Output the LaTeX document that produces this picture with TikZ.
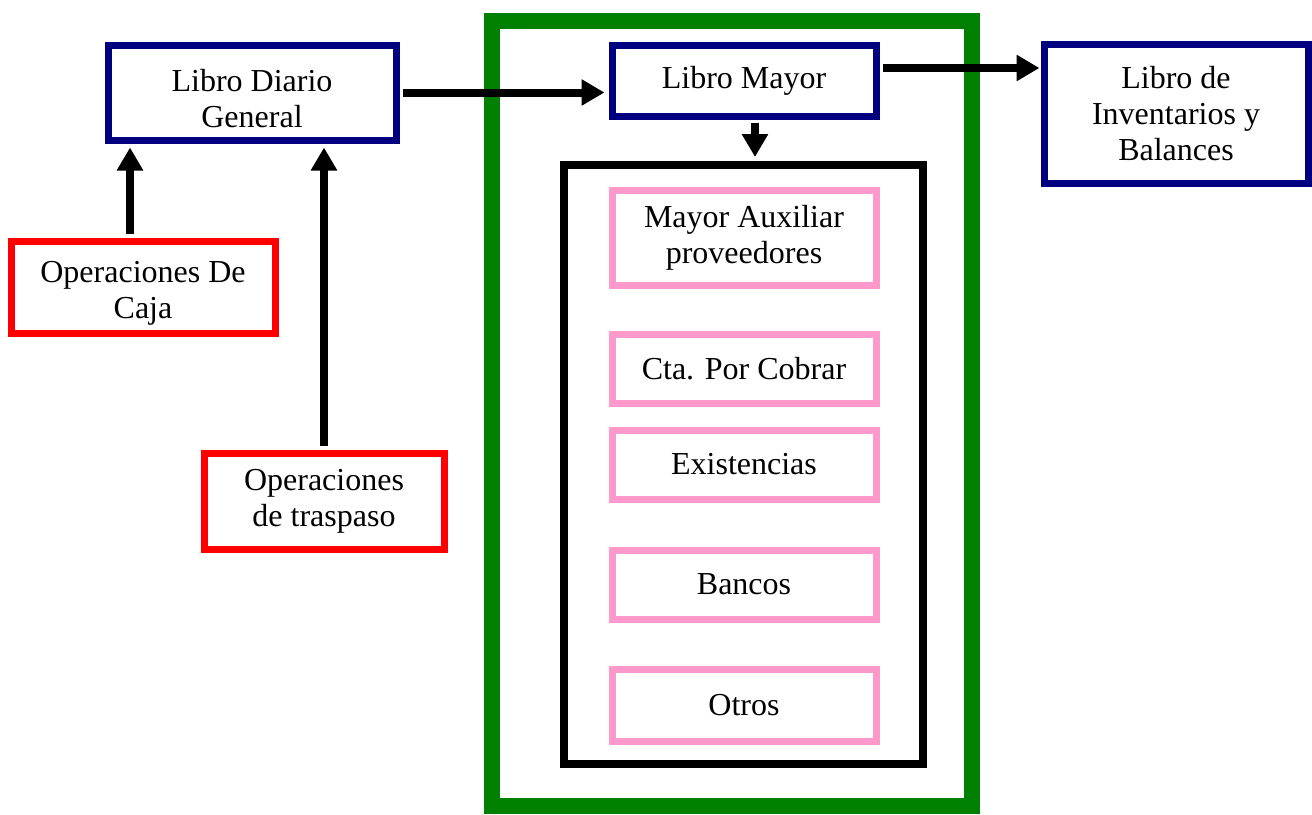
\documentclass[tikz,border=0pt]{standalone}
\usepackage{fontspec}
\setmainfont{Liberation Serif}
\usetikzlibrary{arrows.meta, positioning}
\definecolor{navyblue}{RGB}{0,0,128}
\definecolor{darkgreen}{RGB}{0,128,0}
\definecolor{pinkline}{RGB}{255,153,204}
\newcommand{\alto}{\rule{0pt}{17pt}}

\begin{document}
\begin{tikzpicture}[x=0.5pt, y=-0.5pt,
    every node/.style={font=\fontsize{16}{18}\selectfont, align=center},
    libro/.style={rectangle, draw=navyblue, line width=3.5pt, minimum width=132pt},
    oper/.style={rectangle, draw=red, line width=3.5pt},
    aux/.style={rectangle, draw=pinkline, line width=3.5pt, minimum width=132pt, minimum height=34.5pt},
    line/.style={draw, -{Triangle[width=12.5pt,length=11.5pt]}, line width=4pt, shorten >=2pt, shorten <=1.75pt}
]
\useasboundingbox (0,0) rectangle (1312,814);

\node [draw=darkgreen, line width=8pt, minimum width=240pt, minimum height=392.5pt] (grupo) at (732,413.5) {};
\node [libro, minimum width=144pt, minimum height=47.5pt] (diario) at (252,92.5) {\alto Libro Diario\\General};
\node [oper, minimum width=132pt, minimum height=46pt] (caja) at (143,287) {\alto Operaciones De\\Caja};
\node [oper, minimum width=120pt, minimum height=48pt] (traspaso) at (324,501) {Operaciones\\de traspaso};
\node [libro, minimum height=35.5pt] (mayor) at (744,80.5) {Libro Mayor};
\node [libro, minimum height=69.5pt] (inventarios) at (1176,113.5) {Libro de\\Inventarios y\\Balances};
\node [draw, line width=4pt, minimum width=179.5pt, minimum height=299.5pt] (auxiliares) at (743.5,464.5) {};
\node [aux, minimum height=47.5pt] (proveedores) at (744,237.5) {Mayor Auxiliar\\proveedores};
\node [aux] (cobrar) at (744,368.5) {Cta. Por Cobrar};
\node [aux] (existencias) at (744,464.5) {Existencias};
\node [aux] (bancos) at (744,584.5) {Bancos};
\node [aux, minimum height=36pt] (otros) at (744,705) {Otros};

\coordinate (c1) at ([xshift=-6.5pt]caja.north);
\coordinate (m1) at ([yshift=6.25pt]mayor.east);
\coordinate (m2) at ([xshift=5.5pt]mayor.south);

\path [line] (c1) -- (c1 |- diario.south);
\path [line] (traspaso.north) -- (traspaso.north |- diario.south);
\path [line] (diario.east) -- (diario.east -| mayor.west);
\path [line, shorten >=0.5pt] (m1) -- (m1 -| inventarios.west);
\path [line] (m2) -- (m2 |- auxiliares.north);

\end{tikzpicture}
\end{document}
